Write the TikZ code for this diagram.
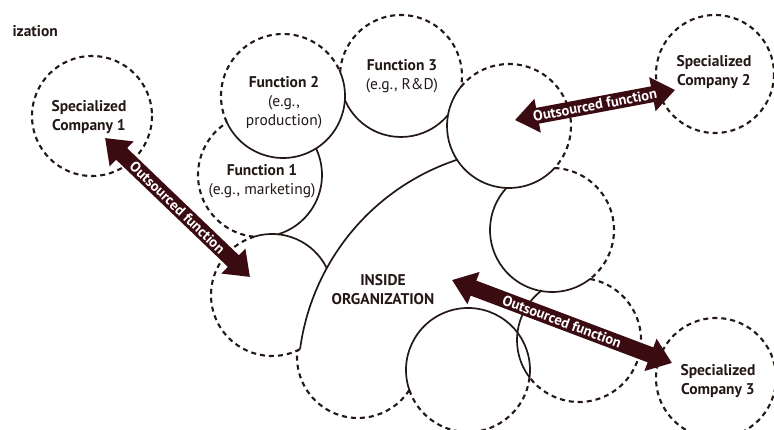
\documentclass[tikz,border=0pt]{standalone}
\usepackage{fontspec}
\setmainfont{PT Sans}
\usetikzlibrary{arrows.meta,calc}
\definecolor{ink}{HTML}{231816}
\definecolor{arrowred}{HTML}{3A0C12}
\newcommand\cirarc[5]{\draw[#1] ($(#2)+(#3:#5)$) arc[start angle=#3,end angle=#4,radius=#5];}
\tikzset{
  solidarc/.style={draw=ink, line width=1.7pt},
  dashedarc/.style={draw=ink, line width=2.1pt, dash pattern=on 5pt off 4pt},
  lbl/.style={text=ink, align=center, font=\bfseries\fontsize{15.5}{19}\selectfont},
  bigarrow/.style={draw=arrowred, line width=16pt,
    {Triangle[length=23pt,width=33pt]}-{Triangle[length=23pt,width=33pt]}},
  arrowtext/.style={midway, sloped, text=white, inner sep=0pt,
    font=\bfseries\fontsize{14.5}{15}\selectfont}
}
\begin{document}
\begin{tikzpicture}[x=1pt,y=-1pt]
\clip (0,0) rectangle (774,430);
\fill[white] (0,0) rectangle (774,430);
% centres
\coordinate (SCa) at (92,116);
\coordinate (SCb) at (715,74);
\coordinate (SCc) at (716,378);
\coordinate (F2) at (283,96);
\coordinate (F3) at (401,76);
\coordinate (F1) at (260,175);
\coordinate (TR) at (509,126);
\coordinate (RM) at (552,230);
\coordinate (LR) at (579,340);
\coordinate (BC) at (468,370);
\coordinate (BL) at (358,357);
\coordinate (LC) at (272,295);
\coordinate (BIG) at (530,380);
% specialized companies
\draw[dashedarc] (SCa) circle[radius=60];
\draw[dashedarc] (SCb) circle[radius=59];
\draw[dashedarc] (SCc) circle[radius=60];
% organization
\cirarc{dashedarc}{F2}{155.1}{335.5}{62}
\cirarc{solidarc}{F2}{335.5}{515.1}{62}
\cirarc{dashedarc}{F3}{183.7}{370.4}{61}
\cirarc{solidarc}{F3}{39.7}{157.1}{61}
\cirarc{dashedarc}{F1}{95.6}{238.1}{62}
\cirarc{solidarc}{F1}{-25.3}{73.1}{62}
\cirarc{dashedarc}{LC}{62.8}{252.8}{61}
\cirarc{solidarc}{LC}{252.8}{333.7}{61}
\cirarc{solidarc}{BIG}{187.6}{251.7}{232}
\cirarc{dashedarc}{BL}{32.8}{186.1}{61}
\cirarc{dashedarc}{BC}{6.85}{161.2}{62}
\cirarc{solidarc}{BC}{161.2}{366.85}{62}
\cirarc{dashedarc}{LR}{280.2}{502.9}{62}
\cirarc{solidarc}{LR}{142.9}{232.2}{62}
\cirarc{dashedarc}{RM}{272.3}{412.1}{62}
\cirarc{solidarc}{RM}{52.1}{222.8}{62}
\cirarc{dashedarc}{TR}{219.1}{402.8}{62}
\cirarc{solidarc}{TR}{42.8}{219.1}{62}
% texts
\node[lbl, anchor=west] (title) at (9,31) {ization};
\node[lbl] (tSCa) at (89,117) {Specialized\\Company 1};
\node[lbl] (tSCb) at (714,72) {Specialized\\Company 2};
\node[lbl] (tSCc) at (718,381) {Specialized\\Company 3};
\node[lbl] (tF2) at (284,103) {Function 2\\{\mdseries(e.g.,}\\{\mdseries production)}};
\node[lbl] (tF3) at (402,76) {Function 3\\{\mdseries(e.g., R\&D)}};
\node[lbl] (tF1) at (262,181) {Function 1\\{\mdseries(e.g., marketing)}};
\node[lbl] (tIN) at (383,290) {INSIDE\\ORGANIZATION};
% arrows
\coordinate (a1s) at (105,138);
\coordinate (a1e) at (250,277);
\coordinate (a2s) at (515,120);
\coordinate (a2e) at (675,90);
\coordinate (a3s) at (452,280);
\coordinate (a3e) at (672,363);
\draw[bigarrow] (a1s) -- node[arrowtext] {Outsourced function} (a1e);
\draw[bigarrow] (a2s) -- node[arrowtext] {Outsourced function} (a2e);
\draw[bigarrow] (a3s) -- node[arrowtext] {Outsourced function} (a3e);
\end{tikzpicture}
\end{document}
